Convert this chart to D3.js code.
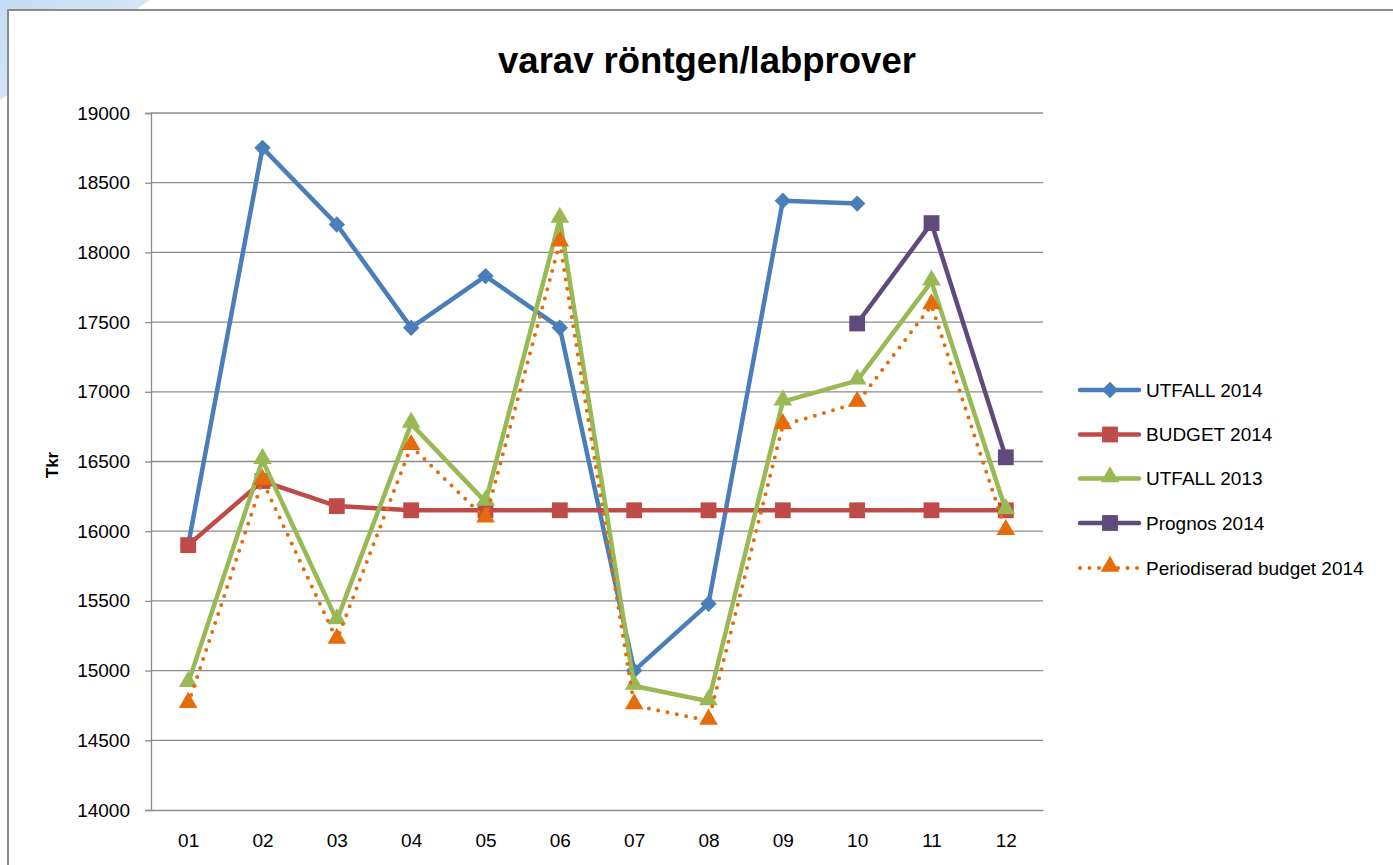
<!DOCTYPE html>
<html>
<head>
<meta charset="utf-8">
<script src="https://cdn.jsdelivr.net/npm/d3@7"></script>
<style>
  html, body { margin: 0; padding: 0; background: #ffffff; overflow: hidden; }
  svg { display: block; font-family: "Liberation Sans", Arial, sans-serif; }
</style>
</head>
<body>
<svg id="chart" width="1393" height="865"></svg>
<script>
// ---- data ----
const categories = ["01","02","03","04","05","06","07","08","09","10","11","12"];
const utfall2014  = [15900, 18750, 18200, 17460, 17830, 17460, 15000, 15480, 18370, 18350, null, null];
const budget2014  = [15900, 16360, 16180, 16150, 16150, 16150, 16150, 16150, 16150, 16150, 16150, 16150];
const utfall2013  = [14910, 16510, 15360, 16770, 16210, 18240, 14890, 14780, 16930, 17080, 17790, 16150];
const prognos2014 = [null, null, null, null, null, null, null, null, null, 17490, 18210, 16530];
const periodBudget2014 = [14760, 16360, 15220, 16610, 16090, 18070, 14750, 14640, 16760, 16920, 17620, 16000];
const yTicks = [14000, 14500, 15000, 15500, 16000, 16500, 17000, 17500, 18000, 18500, 19000];
const seriesNames = ["UTFALL 2014", "BUDGET 2014", "UTFALL 2013", "Prognos 2014", "Periodiserad budget 2014"];

const series = [
  { name: seriesNames[0], values: utfall2014, color: "#4a7ebb", marker: "diamond", dotted: false },
  { name: seriesNames[1], values: budget2014, color: "#be4b48", marker: "square", dotted: false },
  { name: seriesNames[2], values: utfall2013, color: "#98b954", marker: "triangle", dotted: false },
  { name: seriesNames[3], values: prognos2014, color: "#604a7b", marker: "square", dotted: false },
  { name: seriesNames[4], values: periodBudget2014, color: "#e46c0a", marker: "triangle", dotted: true }
];

const svg = d3.select("#chart");

// background decoration
const defs = svg.append("defs");
const grad = defs.append("linearGradient").attr("id", "bgGrad")
  .attr("x1", "0").attr("y1", "0").attr("x2", "1").attr("y2", "1");
grad.append("stop").attr("offset", "0%").attr("stop-color", "#c4dcf3");
grad.append("stop").attr("offset", "100%").attr("stop-color", "#e3eefa");
svg.append("path").attr("d", "M0,0 L150,0 L0,100 Z").attr("fill", "url(#bgGrad)");

// chart frame
svg.append("rect").attr("x", 8).attr("y", 10).attr("width", 1400).attr("height", 900)
  .attr("fill", "#ffffff").attr("stroke", "#8c8c8c").attr("stroke-width", 2);

// scales
const plotLeft = 151, plotRight = 1043, plotTop = 113, plotBottom = 810;
const x = d3.scalePoint().domain(categories).range([plotLeft, plotRight]).padding(0.5);
const y = d3.scaleLinear().domain([14000, 19000]).range([plotBottom, plotTop]);

// gridlines
svg.append("g").selectAll("line").data(yTicks.filter(t => t > 14000)).join("line")
  .attr("x1", plotLeft).attr("x2", plotRight)
  .attr("y1", d => y(d)).attr("y2", d => y(d))
  .attr("stroke", "#8c8c8c").attr("stroke-width", 1.3);

// y axis
const yAxis = svg.append("g").attr("transform", `translate(${plotLeft},0)`)
  .call(d3.axisLeft(y).tickValues(yTicks).tickFormat(d3.format("d")).tickSize(6).tickPadding(15));
yAxis.select(".domain").attr("stroke", "#8c8c8c").attr("stroke-width", 1.3);
yAxis.selectAll(".tick line").attr("stroke", "#8c8c8c").attr("stroke-width", 1.3);
yAxis.selectAll(".tick text").attr("font-size", 19).attr("fill", "#000")
  .attr("font-family", "Liberation Sans, Arial, sans-serif");

// x axis
const xAxis = svg.append("g").attr("transform", `translate(0,${plotBottom})`)
  .call(d3.axisBottom(x).tickSize(0).tickPadding(24));
xAxis.select(".domain").attr("stroke", "#8c8c8c").attr("stroke-width", 1.3);
xAxis.selectAll(".tick text").attr("font-size", 19).attr("fill", "#000")
  .attr("font-family", "Liberation Sans, Arial, sans-serif");

// title
svg.append("text").attr("x", 707).attr("y", 73).attr("text-anchor", "middle")
  .attr("font-size", 36.5).attr("font-weight", "bold").attr("fill", "#000")
  .text("varav röntgen/labprover");

// y title
svg.append("text").attr("transform", "translate(58,465) rotate(-90)")
  .attr("text-anchor", "middle").attr("font-size", 17).attr("font-weight", "bold")
  .attr("fill", "#000").text("Tkr");

// marker drawing
function drawMarker(g, type, color, cx, cy) {
  if (type === "diamond") {
    g.append("path").attr("d", d3.symbol(d3.symbolSquare, 135)())
      .attr("transform", `translate(${cx},${cy}) rotate(45)`).attr("fill", color);
  } else if (type === "square") {
    g.append("path").attr("d", d3.symbol(d3.symbolSquare, 250)())
      .attr("transform", `translate(${cx},${cy})`).attr("fill", color);
  } else {
    g.append("path").attr("d", d3.symbol(d3.symbolTriangle, 150)())
      .attr("transform", `translate(${cx},${cy - 1.5})`).attr("fill", color);
  }
}

const line = d3.line()
  .defined(d => d.v !== null)
  .x(d => x(d.c)).y(d => y(d.v));

series.forEach(s => {
  const g = svg.append("g");
  const pts = categories.map((c, i) => ({ c, v: s.values[i] }));
  const p = g.append("path").datum(pts).attr("d", line)
    .attr("fill", "none").attr("stroke", s.color)
    .attr("stroke-linejoin", "round").attr("stroke-linecap", "round");
  if (s.dotted) {
    p.attr("stroke-width", 4).attr("stroke-dasharray", "0 9.5");
  } else {
    p.attr("stroke-width", 4.5);
  }
  pts.filter(d => d.v !== null).forEach(d => drawMarker(g, s.marker, s.color, x(d.c), y(d.v)));
});

// legend
const legendRowsY = [390, 434.5, 478.5, 523, 568];
series.forEach((s, i) => {
  const g = svg.append("g");
  const ly = legendRowsY[i];
  const l = g.append("line").attr("x1", 1080).attr("x2", 1139).attr("y1", ly).attr("y2", ly)
    .attr("stroke", s.color).attr("stroke-linecap", "round");
  if (s.dotted) l.attr("stroke-width", 4).attr("stroke-dasharray", "0 9.5");
  else l.attr("stroke-width", 4.5);
  drawMarker(g, s.marker, s.color, 1110, ly);
  g.append("text").attr("x", 1146).attr("y", ly).attr("dy", "0.36em")
    .attr("font-size", 19).attr("fill", "#000").text(s.name);
});
</script>
</body>
</html>
